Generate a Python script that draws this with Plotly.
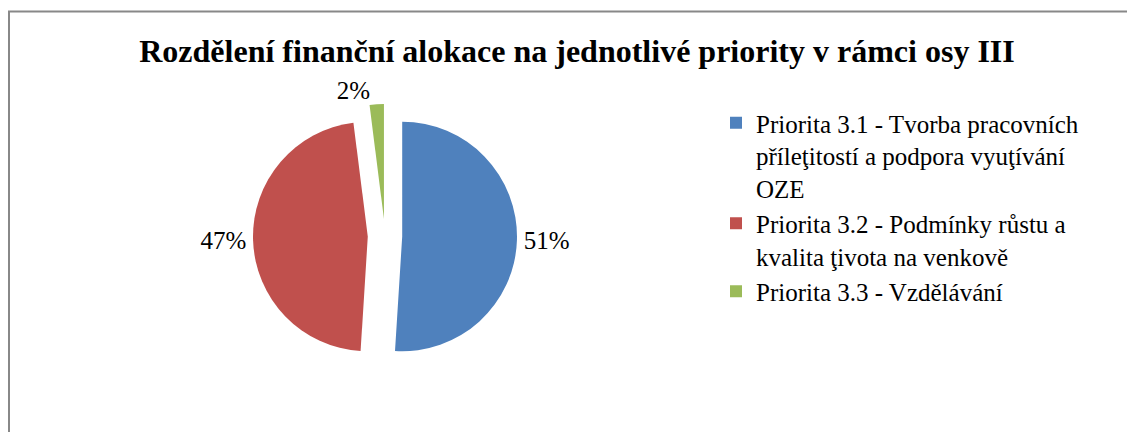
import plotly.graph_objects as go

labels = [
    "Priorita 3.1 - Tvorba pracovních<br>příleţitostí a podpora vyuţívání<br>OZE",
    "Priorita 3.2 - Podmínky růstu a<br>kvalita ţivota na venkově",
    "Priorita 3.3 - Vzdělávání",
]
values = [51, 47, 2]
colors = ["#4F81BD", "#C0504D", "#9BBB59"]
title = "Rozdělení finanční alokace na jednotlivé priority v rámci osy III"

W, H = 1135, 432
OFF = 8  # page body margin


def px(x):
    return (x - OFF) / W


def py(y):
    return 1 - (y - OFF) / H


fig = go.Figure(go.Pie(
    labels=labels,
    values=values,
    sort=False,
    direction="clockwise",
    rotation=0,
    pull=[0.15, 0.15, 0.15],
    marker=dict(colors=colors, line=dict(color="white", width=0)),
    textinfo="percent",
    texttemplate="%{percent:.0%}",
    textposition="outside",
    textfont=dict(family="Liberation Serif", size=25, color="black"),
    domain=dict(x=[px(215), px(555)], y=[py(236 + 132), py(236 - 132)]),
    hoverinfo="label+percent",
))

fig.update_layout(
    width=W, height=H,
    margin=dict(l=0, r=0, t=0, b=0, autoexpand=False),
    paper_bgcolor="white",
    plot_bgcolor="white",
    title=dict(
        text="<b>" + title + "</b>",
        x=px(577), xanchor="center",
        y=py(51), yanchor="middle",
        font=dict(family="Liberation Serif", size=32, color="black"),
    ),
    legend=dict(
        x=px(716), y=py(100), xanchor="left", yanchor="top",
        font=dict(family="Liberation Serif", size=25, color="black"),
        itemwidth=30,
        valign="top",
        tracegroupgap=0,
        bgcolor="rgba(0,0,0,0)",
    ),
    shapes=[dict(
        type="rect", xref="paper", yref="paper",
        x0=px(9), x1=1.05, y0=-0.05, y1=py(11.5),
        line=dict(color="#888888", width=2),
        fillcolor="rgba(0,0,0,0)",
        layer="below",
    )],
)

fig.write_html("out.html")
